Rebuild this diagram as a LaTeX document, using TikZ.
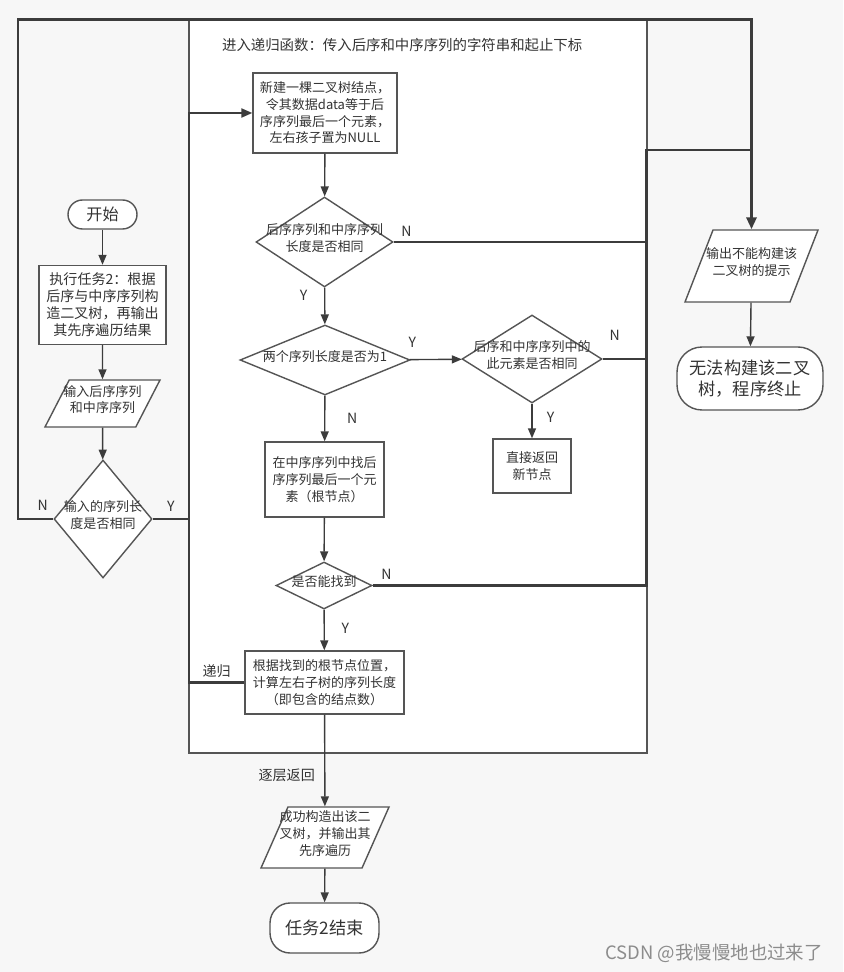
\documentclass[tikz,border=0pt]{standalone}
\usepackage{fontspec}
\setmainfont{Noto Sans CJK SC}
\usetikzlibrary{arrows.meta,positioning,shapes.geometric}
\definecolor{flowbg}{RGB}{247,247,247}
\definecolor{flowline}{RGB}{60,60,60}
\definecolor{flowedge}{RGB}{85,85,85}
\definecolor{flowtext}{RGB}{51,51,51}
\definecolor{flowmark}{RGB}{140,140,140}
\newcommand{\flowsmall}{\fontsize{7.4}{9.5}\selectfont}
\newcommand{\flowmid}{\fontsize{8}{9.7}\selectfont}
\newcommand{\flowlarge}{\fontsize{9.8}{11.6}\selectfont}
\newcommand{\nobox}[1]{\rule{0pt}{1pt}\makebox[1pt]{\smash{\begin{tabular}{@{}c@{}}#1\end{tabular}}}}
\tikzset{
 proc/.style={rectangle,draw=flowedge,line width=0.8pt,fill=white,inner sep=0pt,align=center,font=\flowsmall,text=flowtext},
 term/.style={rectangle,rounded corners=0.4cm,draw=flowedge,line width=0.8pt,fill=white,inner sep=0pt,align=center,font=\flowlarge,text=flowtext},
 decide/.style={diamond,draw=flowedge,line width=0.8pt,fill=white,inner sep=0pt,font=\flowsmall,text=flowtext},
 io/.style={trapezium,trapezium left angle=70,trapezium right angle=110,trapezium stretches=true,draw=flowedge,line width=0.8pt,fill=white,inner sep=0pt,font=\flowsmall,text=flowtext},
 frame/.style={rectangle,draw=flowedge,line width=0.7pt,fill=white,inner sep=0pt,outer sep=0pt,minimum width=9.16cm,minimum height=14.66cm},
 tag/.style={font=\flowmid,text=flowtext,inner sep=1pt},
 arrow/.style={-{Triangle[length=2mm,width=1.6mm]},line width=0.8pt,draw=flowline},
 midloop/.style={-{Triangle[length=2.2mm,width=1.8mm]},line width=1.2pt,draw=flowline},
 bigloop/.style={-{Triangle[length=2.4mm,width=2mm]},line width=1.7pt,draw=flowline}}
\begin{document}
\begin{tikzpicture}[x=0.02cm,y=-0.02cm]
\fill[flowbg] (0,0) rectangle (843,972);
\node[frame] (frame) at (418,386.5) {};
\node[tag,anchor=west,font=\fontsize{8.2}{10}\selectfont] (title) at (220,45) {进入递归函数：传入后序和中序序列的字符串和起止下标};
% main task column
\node[term,rounded corners=0.29cm,minimum width=1.38cm,minimum height=0.58cm,font=\fontsize{9.2}{11}\selectfont] (start) at (102.5,214.5) {开始};
\node[proc,minimum width=2.54cm,minimum height=1.58cm,font=\flowmid] (task) at (102.5,305) {执行任务2：根据\\后序与中序序列构\\造二叉树，再输出\\其先序遍历结果};
\node[io,minimum width=2.3cm,minimum height=0.94cm] (input) at (102.5,403.5) {\nobox{输入后序序列\\和中序序列}};
\node[decide,minimum width=1.96cm,minimum height=2.36cm] (check) at (103,519) {\nobox{输入的序列长\\度是否相同}};
% recursive function
\node[proc,minimum width=2.88cm,minimum height=1.6cm] (newnode) at (325,113) {新建一棵二叉树结点，\\令其数据data等于后\\序序列最后一个元素，\\左右孩子置为NULL};
\node[decide,minimum width=2.74cm,minimum height=1.8cm] (lenq) at (324.5,242) {\nobox{后序序列和中序序列\\长度是否相同}};
\node[decide,minimum width=3.4cm,minimum height=1.4cm] (oneq) at (325,360) {\nobox{两个序列长度是否为1}};
\node[decide,minimum width=2.8cm,minimum height=1.76cm] (sameq) at (532,359) {\nobox{后序和中序序列中的\\此元素是否相同}};
\node[proc,minimum width=1.56cm,minimum height=1.08cm] (retnew) at (532,466) {直接返回\\新节点};
\node[proc,minimum width=2.38cm,minimum height=1.5cm] (findroot) at (324.5,479.5) {在中序序列中找后\\序序列最后一个元\\素（根节点）};
\node[decide,minimum width=1.92cm,minimum height=0.94cm] (foundq) at (324,585.5) {\nobox{是否能找到}};
\node[proc,minimum width=3.18cm,minimum height=1.26cm] (calc) at (324.5,682.5) {根据找到的根节点位置，\\计算左右子树的序列长度\\（即包含的结点数）};
% results
\node[io,minimum width=2.56cm,minimum height=1.22cm] (success) at (325,837.5) {\nobox{成功构造出该二\\叉树，并输出其\\先序遍历}};
\node[term,minimum width=2.18cm,minimum height=1.0cm] (finish) at (324.5,928) {任务2结束};
\node[io,minimum width=2.66cm,minimum height=1.44cm] (errout) at (751.5,266) {\nobox{输出不能构建该\\二叉树的提示}};
\node[term,rounded corners=0.5cm,minimum width=2.92cm,minimum height=1.26cm] (stop) at (750,378.5) {无法构建该二叉\\树，程序终止};
\node[anchor=east,font=\fontsize{10.5}{12}\selectfont,text=flowmark] (mark) at (829,953) {CSDN @我慢慢地也过来了};
\coordinate (topleft) at (18,20);
\coordinate (merge) at (751,150);
% plain arrows
\draw[arrow] (start)--(task); \draw[arrow] (task)--(input); \draw[arrow] (input)--(check);
\draw[arrow] (newnode)--(lenq); \draw[arrow] (lenq)--node[tag,pos=0.2,left=0.3cm]{Y}(oneq);
\draw[arrow] (oneq)--node[tag,pos=0.05,above=0.2cm]{Y}(sameq); \draw[arrow] (sameq)--node[tag,pos=0.4,right=0.25cm]{Y}(retnew);
\draw[arrow] (oneq)--node[tag,pos=0.5,right=0.4cm]{N}(findroot); \draw[arrow] (findroot)--(foundq);
\draw[arrow] (foundq)--node[tag,pos=0.45,right=0.3cm]{Y}(calc);
\draw[arrow] (calc)--node[tag,pos=0.66,left=0.15cm]{逐层返回}(success); \draw[arrow] (success)--(finish);
\draw[arrow] (errout)--(stop);
% loops
\draw[midloop] (check.east)--node[tag,above=0.1cm]{Y}(check.east -| frame.west) |- (newnode.west);
\draw[midloop,-] (calc.west)--node[tag,above=0.05cm]{递归}(calc.west -| frame.west)--(check.east -| frame.west);
\draw[bigloop] (check.west) -| node[tag,pos=0.15,above=0.1cm]{N}(topleft) -| (errout.north);
\draw[bigloop,-] (lenq.east)--node[tag,pos=0.05,above=0.05cm]{N}(lenq.east -| frame.east);
\draw[bigloop,-] (sameq.east)--node[tag,pos=0.27,above=0.3cm]{N}(sameq.east -| frame.east);
\draw[bigloop,-] (foundq.east)--node[tag,pos=0.05,above=0.05cm]{N}(foundq.east -| frame.east) |- (merge);
\end{tikzpicture}
\end{document}
